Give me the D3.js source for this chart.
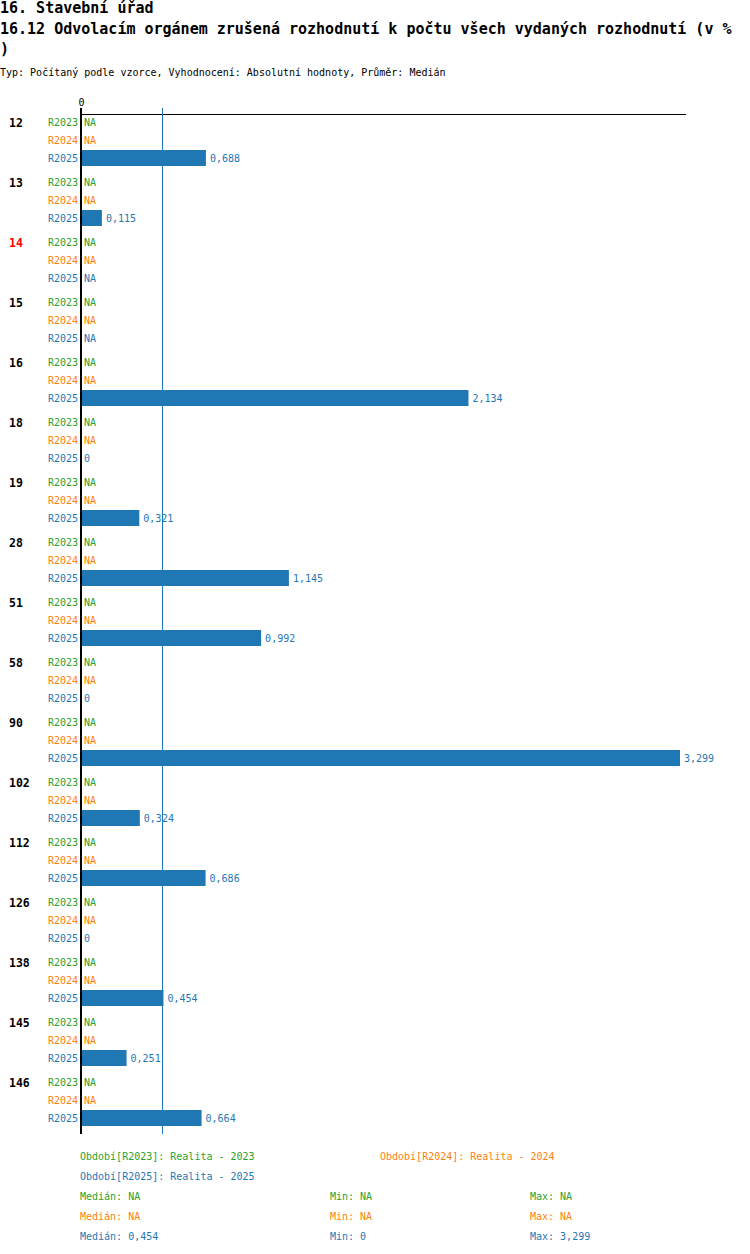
<!DOCTYPE html>
<html>
<head>
<meta charset="utf-8">
<script src="https://cdn.jsdelivr.net/npm/d3@7"></script>
<style>
  body { margin: 0; background: #fff; }
  svg { display: block; font-family: "DejaVu Sans Mono", monospace; }
</style>
</head>
<body>
<div id="chart"></div>
<script>
const categories = ['12', '13', '14', '15', '16', '18', '19', '28', '51', '58', '90', '102', '112', '126', '138', '145', '146'];
const highlighted = ['14'];
const series = ['R2023', 'R2024', 'R2025'];
const seriesNames = ['Realita - 2023', 'Realita - 2024', 'Realita - 2025'];
const colors = ['#2ca02c', '#ff7f0e', '#1f77b4'];
const valuesR2023 = categories.map(() => null);
const valuesR2024 = categories.map(() => null);
const valuesR2025 = [0.688, 0.115, null, null, 2.134, 0, 0.321, 1.145, 0.992, 0, 3.299, 0.324, 0.686, 0, 0.454, 0.251, 0.664];
const xTicks = [0];

const width = 750;
const height = 1254;
const values = [valuesR2023, valuesR2024, valuesR2025];

const fmt = v => v === null ? 'NA' : String(v).replace('.', ',');

const svg = d3.select('#chart')
  .append('svg')
    .attr('width', width)
    .attr('height', height);

// headings
svg.append('text')
  .attr('x', 0).attr('y', 13)
  .attr('font-size', 15).attr('font-weight', 'bold')
  .text('16. Stavební úřad');
svg.append('text')
  .attr('x', 0).attr('y', 34)
  .attr('font-size', 15).attr('font-weight', 'bold')
  .text('16.12 Odvolacím orgánem zrušená rozhodnutí k počtu všech vydaných rozhodnutí (v %');
svg.append('text')
  .attr('x', 0).attr('y', 54)
  .attr('font-size', 15).attr('font-weight', 'bold')
  .text(')');
svg.append('text')
  .attr('x', 0).attr('y', 76)
  .attr('font-size', 10)
  .text('Typ: Počítaný podle vzorce, Vyhodnocení: Absolutní hodnoty, Průměr: Medián');

const allValues = valuesR2025.filter(v => v !== null);
const x = d3.scaleLinear()
  .domain([0, d3.max(allValues)])
  .range([81, 680]);

const y = d3.scaleBand()
  .domain(categories)
  .range([114, 114 + categories.length * 60]);

const yInner = d3.scaleBand()
  .domain(series)
  .range([-1, 53]);

// top axis
const axis = svg.append('g')
  .attr('transform', 'translate(0,114)')
  .call(d3.axisTop(x).tickValues(xTicks).tickSize(6).tickSizeOuter(0).tickFormat(d => fmt(d)));
axis.select('.domain').remove();
axis.selectAll('text').attr('font-size', 10).attr('font-family', 'DejaVu Sans Mono').attr('dy', '0.1em');
axis.selectAll('line').attr('stroke', '#000');
svg.append('line')
  .attr('x1', x(0)).attr('x2', 686)
  .attr('y1', 114.5).attr('y2', 114.5)
  .attr('stroke', '#000');

const groups = svg.selectAll('.group')
  .data(categories)
  .enter().append('g')
    .attr('class', 'group')
    .attr('transform', d => `translate(0,${y(d)})`);

groups.append('text')
  .attr('x', 9)
  .attr('y', yInner('R2023') + yInner.bandwidth() / 2)
  .attr('dy', '0.4em')
  .attr('font-size', 11.5)
  .attr('font-weight', 'bold')
  .attr('fill', d => highlighted.includes(d) ? '#ff0000' : '#000')
  .text(d => d);

series.forEach((s, si) => {
  const cy = yInner(s) + yInner.bandwidth() / 2;
  groups.append('text')
    .attr('x', 78)
    .attr('y', cy)
    .attr('dy', '0.4em')
    .attr('text-anchor', 'end')
    .attr('font-size', 10)
    .attr('fill', colors[si])
    .text(s);

  groups.filter((d, i) => values[si][i] !== null)
    .append('rect')
      .attr('x', x(0))
      .attr('y', cy - 8)
      .attr('height', 16)
      .attr('width', d => x(values[si][categories.indexOf(d)]) - x(0))
      .attr('fill', colors[si]);

  groups.append('text')
    .attr('x', d => {
      const v = values[si][categories.indexOf(d)];
      return (v === null || v === 0) ? 84 : x(v) + 4;
    })
    .attr('y', cy)
    .attr('dy', '0.4em')
    .attr('font-size', 10)
    .attr('fill', colors[si])
    .text(d => fmt(values[si][categories.indexOf(d)]));
});

// median line
const med = d3.median(allValues);
svg.append('line')
  .attr('x1', Math.floor(x(med)) - 0.5).attr('x2', Math.floor(x(med)) - 0.5)
  .attr('y1', 108).attr('y2', 1134)
  .attr('stroke', colors[2]);

// zero axis
svg.append('line')
  .attr('x1', x(0)).attr('x2', x(0))
  .attr('y1', 108).attr('y2', 1134)
  .attr('stroke', '#000').attr('stroke-width', 2);

// legend
const legendPos = [[80, 1156], [380, 1156], [80, 1176]];
series.forEach((s, si) => {
  svg.append('text')
    .attr('x', legendPos[si][0]).attr('y', legendPos[si][1])
    .attr('dy', '0.4em')
    .attr('font-size', 10)
    .attr('fill', colors[si])
    .text(`Období[${s}]: ${seriesNames[si]}`);
});

series.forEach((s, si) => {
  const vs = values[si].filter(v => v !== null);
  const stats = vs.length
    ? [d3.median(vs), d3.min(vs), d3.max(vs)]
    : [null, null, null];
  const rowY = 1196 + si * 20;
  [['Medián', 80], ['Min', 330], ['Max', 530]].forEach(([label, lx], k) => {
    svg.append('text')
      .attr('x', lx).attr('y', rowY)
      .attr('dy', '0.4em')
      .attr('font-size', 10)
      .attr('fill', colors[si])
      .text(`${label}: ${fmt(stats[k])}`);
  });
});
</script>
</body>
</html>
